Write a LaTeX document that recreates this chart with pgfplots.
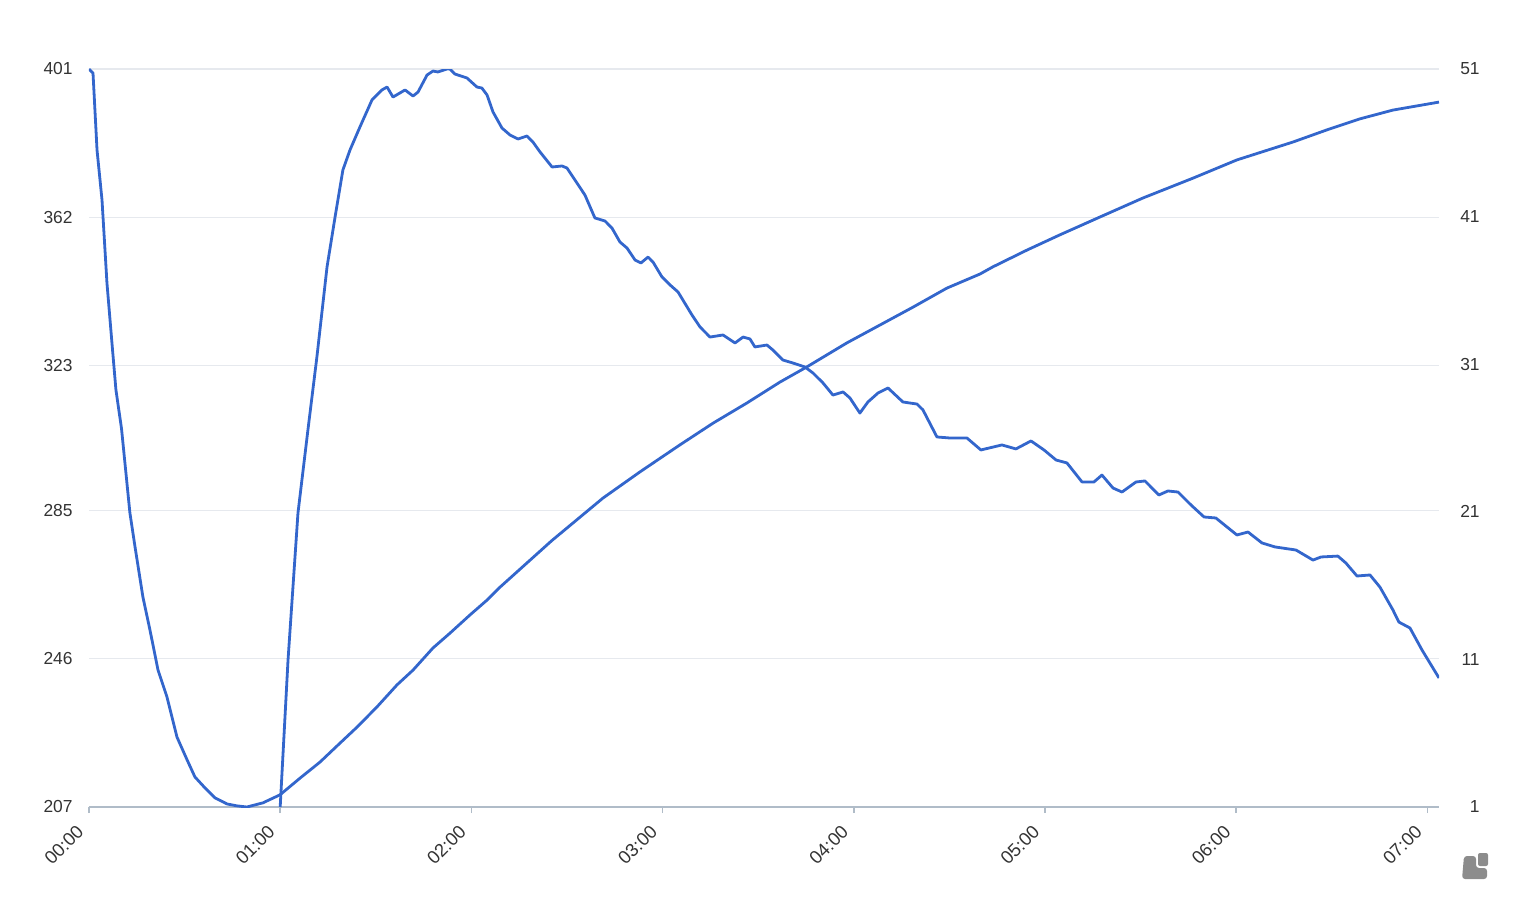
\documentclass[border=0pt]{standalone}
\usepackage{fontspec}
\setmainfont{Liberation Sans}
\usepackage{pgfplots}
\pgfplotsset{compat=1.18}
\definecolor{lineblue}{HTML}{3366CC}
\definecolor{gridgray}{HTML}{E6E9EE}
\definecolor{axisgray}{HTML}{B0BCC8}
\definecolor{labelgray}{HTML}{333333}
\definecolor{logogray}{HTML}{8C8C8C}
\pgfplotstableread{
h v
0 401
0.021 399.9
0.042 379.7
0.068 366.6
0.094 344.7
0.120 329.0
0.141 316.6
0.170 306.5
0.214 284.3
0.241 275.3
0.282 262.2
0.319 253.5
0.361 243.0
0.408 235.9
0.460 225.4
0.513 219.4
0.554 214.9
0.607 212.0
0.659 209.4
0.722 207.8
0.774 207.3
0.826 207.0
0.910 208.1
0.999 210.2
1.104 214.6
1.208 218.8
1.313 223.8
1.402 228.0
1.506 233.3
1.611 239.1
1.695 243.0
1.799 248.8
1.888 252.7
1.993 257.5
2.082 261.4
2.150 264.8
2.420 277.0
2.688 288.2
2.882 295.1
3.091 302.2
3.264 307.9
3.441 313.2
3.614 318.7
3.755 322.7
3.964 329.0
4.137 333.7
4.310 338.4
4.487 343.4
4.660 347.1
4.728 349.0
4.906 353.4
5.078 357.4
5.288 362.1
5.513 367.1
5.774 372.3
6.004 377.1
6.297 381.8
6.475 385.0
6.648 387.9
6.820 390.2
7.061 392.3
}\seriesA
\pgfplotstableread{
h v
1.000 1.0
1.041 10.96
1.093 20.92
1.145 26.54
1.192 31.49
1.245 37.59
1.287 40.97
1.328 44.16
1.365 45.51
1.417 47.07
1.480 48.90
1.532 49.58
1.559 49.78
1.590 49.10
1.653 49.58
1.695 49.17
1.721 49.44
1.768 50.59
1.799 50.86
1.825 50.80
1.872 51.0
1.888 51.0
1.914 50.66
1.977 50.39
2.029 49.78
2.055 49.71
2.082 49.24
2.113 48.09
2.160 47.00
2.202 46.53
2.244 46.26
2.291 46.46
2.322 46.05
2.359 45.38
2.422 44.36
2.474 44.43
2.500 44.29
2.552 43.28
2.594 42.46
2.646 40.91
2.699 40.70
2.735 40.23
2.777 39.28
2.814 38.87
2.856 38.06
2.887 37.86
2.924 38.26
2.950 37.92
2.997 36.91
3.039 36.37
3.081 35.89
3.154 34.33
3.196 33.52
3.248 32.84
3.316 32.98
3.379 32.44
3.421 32.84
3.457 32.71
3.483 32.17
3.546 32.30
3.577 31.96
3.630 31.28
3.682 31.08
3.745 30.81
3.787 30.40
3.839 29.73
3.891 28.91
3.944 29.12
3.980 28.71
4.032 27.69
4.074 28.44
4.127 29.05
4.179 29.39
4.257 28.44
4.331 28.30
4.362 27.90
4.435 26.07
4.503 26.00
4.592 26.00
4.665 25.19
4.775 25.53
4.848 25.26
4.927 25.80
4.995 25.19
5.058 24.51
5.115 24.31
5.194 23.02
5.256 23.02
5.298 23.49
5.356 22.61
5.403 22.34
5.476 23.02
5.523 23.09
5.596 22.14
5.643 22.41
5.696 22.34
5.764 21.46
5.832 20.65
5.894 20.58
6.004 19.43
6.062 19.63
6.135 18.89
6.203 18.62
6.313 18.41
6.402 17.73
6.444 17.94
6.532 18.00
6.574 17.53
6.632 16.65
6.700 16.72
6.752 15.90
6.820 14.35
6.851 13.53
6.909 13.13
6.972 11.64
7.061 9.74
}\seriesB
\begin{document}
\begin{tikzpicture}
\path[use as bounding box] (-44.5pt,-46.5pt) rectangle (717.5pt,403.5pt);
\pgfplotsset{every axis/.append style={
  scale only axis, width=675pt, height=369pt,
  xmin=0, xmax=7.061, at={(0pt,0pt)}, anchor=south west,
  tick label style={font=\fontsize{8.7}{10}\selectfont, text=labelgray},
  /pgf/number format/assume math mode=true,
}}
\begin{axis}[
  ymin=207, ymax=401, ytick={207,246,285,323,362,401},
  axis x line*=bottom, axis y line*=left,
  x axis line style={draw=axisgray, line width=1pt, -},
  y axis line style={draw=none},
  ymajorgrids, grid style={gridgray, line width=0.6pt},
  xtick={0,1,2,3,4,5,6,7},
  xticklabels={00:00,01:00,02:00,03:00,04:00,05:00,06:00,07:00},
  xtick align=outside, major tick length=3pt,
  xtick style={draw=axisgray, line width=0.8pt},
  ytick style={draw=none},
  yticklabel style={anchor=east, inner sep=0pt, xshift=-8pt},
  xticklabel style={font=\fontsize{9.2}{10}\selectfont, rotate=45, anchor=east, inner sep=0pt, xshift=-8.5pt, yshift=-2.5pt},
]
\addplot[lineblue, line width=1.4pt, line join=round, no markers] table[x=h, y=v] {\seriesA};
\end{axis}
\begin{axis}[
  ymin=1, ymax=51, ytick={1,11,21,31,41,51},
  axis x line=none, axis y line*=right,
  y axis line style={draw=none},
  xtick=\empty,
  ytick style={draw=none}, ytick align=inside,
  yticklabel style={anchor=east, inner sep=0pt, xshift=20.5pt},
]
\addplot[lineblue, line width=1.4pt, line join=round, no markers] table[x=h, y=v] {\seriesB};
\end{axis}
% logo
\fill[logogray, rounded corners=1.5pt] (686.5pt,-36pt) -- (699pt,-36pt) -- (699pt,-30.5pt) -- (693.5pt,-30.5pt) -- (693.5pt,-24.5pt) -- (687.5pt,-24.5pt) -- cycle;
\fill[logogray, rounded corners=1pt] (694.5pt,-23pt) rectangle (699.5pt,-29.5pt);
\end{tikzpicture}
\end{document}
